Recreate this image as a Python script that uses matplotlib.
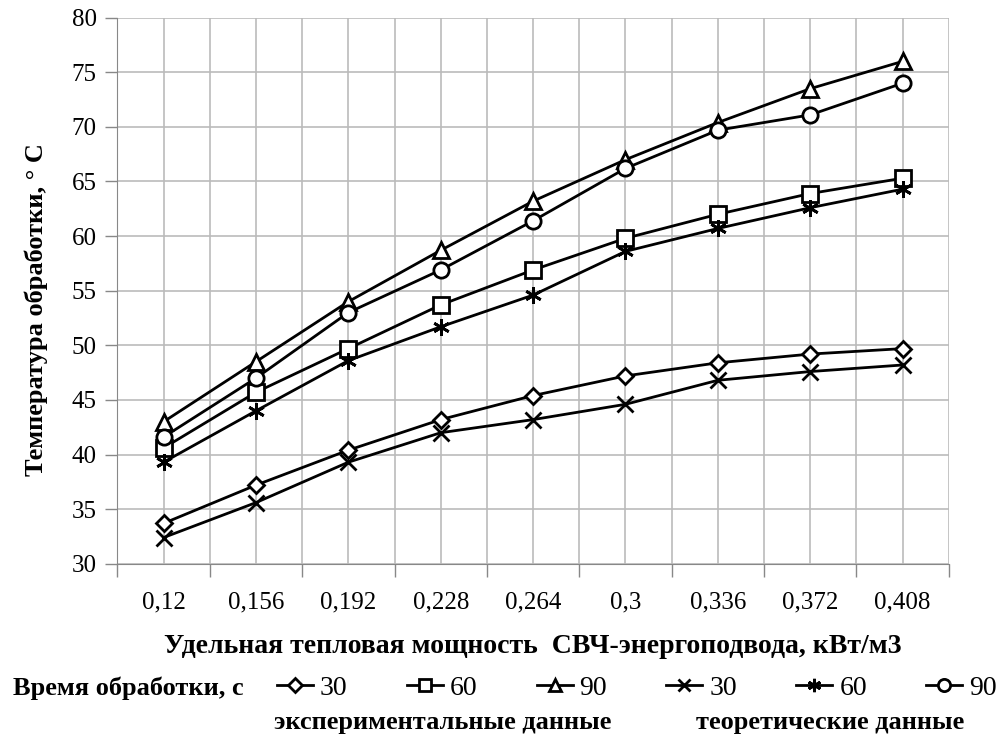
import numpy as np
import matplotlib.pyplot as plt

plt.rcParams['font.family'] = ['Liberation Serif', 'DejaVu Serif']

power = ['0,12', '0,156', '0,192', '0,228', '0,264', '0,3', '0,336', '0,372', '0,408']

# experimental data
exp_30 = [33.7, 37.2, 40.4, 43.2, 45.4, 47.2, 48.4, 49.2, 49.7]
exp_60 = [40.6, 45.7, 49.7, 53.7, 56.9, 59.8, 62.0, 63.9, 65.3]
exp_90 = [43.0, 48.5, 54.0, 58.7, 63.2, 67.0, 70.4, 73.5, 76.0]
# theoretical data
th_30 = [32.4, 35.6, 39.3, 42.0, 43.2, 44.6, 46.8, 47.6, 48.2]
th_60 = [39.3, 44.0, 48.6, 51.7, 54.6, 58.6, 60.7, 62.6, 64.3]
th_90 = [41.6, 47.0, 53.0, 56.9, 61.4, 66.2, 69.7, 71.1, 74.0]

series = [
    (exp_30, 'D', 8.5, '30'),
    (exp_60, 's', 11, '60'),
    (exp_90, '^', 11, '90'),
    (th_30, 'x', 11, '30'),
    (th_60, (6, 2, 0), 12, '60'),
    (th_90, 'o', 11, '90'),
]

fig = plt.figure(figsize=(10.03, 7.36), dpi=100)
ax = fig.add_axes([0.117, 0.234, 0.829, 0.742])

x = np.arange(len(power))
handles = []
for vals, m, ms, lab in series:
    h, = ax.plot(x, vals, color='black', lw=2, marker=m, markersize=ms,
                 markerfacecolor='white', markeredgecolor='black',
                 markeredgewidth=2, label=lab, zorder=3)
    handles.append(h)

ax.set_xlim(-0.5, len(power) - 0.5)
ax.set_ylim(30, 80)
ax.set_yticks(np.arange(30, 81, 5))
ax.set_xticks(x)
ax.set_xticklabels(power)
ax.set_xticks(np.arange(-0.5, len(power), 1), minor=True)
ax.tick_params(axis='x', which='major', length=0, pad=20, labelsize=18)
ax.tick_params(axis='x', which='minor', length=9, width=1, color='#888888')
ax.tick_params(axis='y', length=9, width=1, color='#888888', labelsize=18, pad=6)
ax.grid(True, which='both', color='#bbbbbb', lw=1.2)
ax.set_axisbelow(True)
for s in ['top', 'right']:
    ax.spines[s].set_visible(False)
for s in ['left', 'bottom']:
    ax.spines[s].set_color('#888888')

ax.set_xlabel('Удельная тепловая мощность  СВЧ-энергоподвода, кВт/м3',
              fontsize=20, fontweight='bold', labelpad=15)
ax.set_ylabel('Температура обработки, ° С', fontsize=19, fontweight='bold')
ax.yaxis.set_label_coords(-0.083, 0.465)

fig.text(0.013, 0.065, 'Время обработки, с', fontsize=19, fontweight='bold',
         va='center', ha='left')
fig.legend(handles=handles, loc='center left', bbox_to_anchor=(0.276, 0.065),
           ncol=6, frameon=False, fontsize=20, handlelength=1.3,
           columnspacing=2.13, handletextpad=0.25, markerscale=0.8,
           borderpad=0, borderaxespad=0)
fig.text(0.441, 0.018, 'экспериментальные данные', fontsize=19, fontweight='bold',
         ha='center', va='center')
fig.text(0.828, 0.018, 'теоретические данные', fontsize=19, fontweight='bold',
         ha='center', va='center')

fig.savefig('out.png', dpi=100)
